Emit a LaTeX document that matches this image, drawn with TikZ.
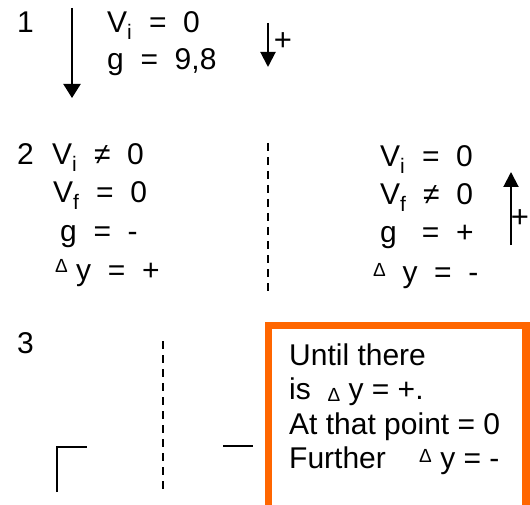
\documentclass[tikz,border=0pt]{standalone}
\usepackage{fontspec}
\setmainfont{Liberation Sans}
\usepackage{xcolor}
\usetikzlibrary{arrows.meta,positioning,calc}
\definecolor{boxorange}{HTML}{FF6600}
\newcommand{\dsmall}[1]{\raisebox{#1}{\fontsize{19}{19}\selectfont Δ}}

\begin{document}
\begin{tikzpicture}[
    x=1pt, y=-1pt,
    txt/.style={anchor=base west, inner sep=0pt, font=\fontsize{30}{36}\selectfont},
    plus/.style={inner sep=0pt, font=\fontsize{31}{36}\selectfont},
    bigarrow/.style={draw, line width=2pt, -{Triangle[width=17pt,length=14pt]}},
    smallarrow/.style={draw, line width=2pt, -{Triangle[width=15pt,length=15pt]}},
    divider/.style={draw, line width=1.6pt, dash pattern=on 8pt off 6pt},
    stroke/.style={draw, line width=1.8pt}
]
\useasboundingbox (0,0) rectangle (530,505);

% Nodes
\node [txt] (n1) at (17,33) {1};
\node [txt] (vi1) at (107,33) {V\textsubscript{i}\ \ =\ \ 0};
\node [txt] (g1) at (107,70) {g\ \ =\ \ 9,8};
\node [plus] (p1) at (283,42) {+};

\node [txt] (n2) at (17,165) {2};
\node [txt] (vi2) at (52,165) {V\textsubscript{i}\ \ ≠\ \ 0};
\node [txt] (vf2) at (53,203) {V\textsubscript{f}\ \ =\ \ 0};
\node [txt] (g2) at (60,241) {g\ \ =\ \ -};
\node [txt] (dy2) at (55,280) {\dsmall{8pt}\ y\ \ =\ \ +};

\node [txt] (vi3) at (380,167) {V\textsubscript{i}\ \ =\ \ 0};
\node [txt] (vf3) at (380,205) {V\textsubscript{f}\ \ ≠\ \ 0};
\node [txt] (g3) at (380,243) {g\ \ \ =\ \ +};
\node [txt] (dy3) at (373,282) {\dsmall{6pt}\ \ y\ \ =\ \ -};
\node [plus] (p2) at (520,219) {+};

\node [txt] (n3) at (17,353) {3};
\node [txt] (l1) at (289,365) {Until there};
\node [txt] (l2) at (289,399) {is\ \ \dsmall{-2pt}\ y = +.};
\node [txt] (l3) at (289,434) {At that point = 0};
\node [txt] (l4) at (289,468) {Further\ \ \ \ \dsmall{6pt}\ y = -};

% Arrow ends
\coordinate (a1s) at (72,8);
\coordinate (a1e) at (72,98);
\coordinate (a2s) at (268,23);
\coordinate (a2e) at (268,67);
\coordinate (a3s) at (511,245);
\coordinate (a3e) at (511,172);

% Connectors
\path [bigarrow] (a1s) -- (a1e);
\path [smallarrow] (a2s) -- (a2e);
\path [smallarrow] (a3s) -- (a3e);

% Dividers and marks
\path [divider] (268,143) -- (268,295);
\path [divider] (163,341) -- (163,490);
\path [stroke] (57,492) -- (57,447) -- (87,447);
\path [stroke] (223,446) -- (253,446);

% Box
\draw [boxorange, line width=7.5pt] (268.5,325.5) rectangle (526,509);

\end{tikzpicture}
\end{document}
